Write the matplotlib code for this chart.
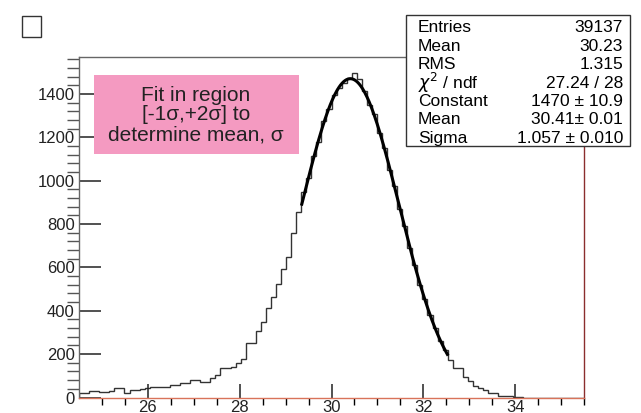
import numpy as np
import matplotlib
matplotlib.use("Agg")
import matplotlib.pyplot as plt
from matplotlib.patches import Rectangle

plt.rcParams["font.family"] = ["Liberation Sans", "DejaVu Sans"]

# histogram: 100 bins from 24.5 to 35.5
x_lo, x_hi, n_bins = 24.5, 35.5, 100
counts = [19, 19, 31, 31, 25, 25, 28, 44, 44, 22,
          35, 35, 40, 45, 47, 47, 48, 49, 58, 58,
          65, 65, 79, 79, 72, 72, 88, 104, 137, 137,
          140, 158, 176, 250, 250, 307, 350, 414, 462, 522,
          591, 649, 757, 857, 949, 1010, 1115, 1180, 1275, 1330,
          1395, 1425, 1450, 1472, 1498, 1470, 1415, 1350, 1305, 1220,
          1150, 1050, 975, 870, 790, 690, 610, 520, 455, 380,
          322, 262, 220, 175, 137, 137, 93, 76, 53, 42,
          35, 22, 22, 7, 6, 5, 4, 3, 0, 0,
          0, 0, 0, 0, 0, 0, 0, 0, 0, 0]

# gaussian fit result, fitted in [mean-1sigma, mean+2sigma]
fit_const, fit_mean, fit_sigma = 1470, 30.41, 1.057

stat_names = ["Entries", "Mean", "RMS", r"$\chi^2$ / ndf", "Constant", "Mean", "Sigma"]
stat_values = ["39137", "30.23", "1.315", "27.24 / 28",
               "1470 \u00b1 10.9", "30.41\u00b1 0.01", "1.057 \u00b1 0.010"]

W, H = 641, 413
fig = plt.figure(figsize=(W / 100, H / 100), dpi=100)
ax = fig.add_axes([79 / W, 1 - 397.5 / H, 505 / W, 340.5 / H])

edges = np.linspace(x_lo, x_hi, n_bins + 1)
ax.stairs(counts, edges, color="#333333", lw=1.0)

xf = np.linspace(fit_mean - fit_sigma, fit_mean + 2 * fit_sigma, 200)
ax.plot(xf, fit_const * np.exp(-0.5 * ((xf - fit_mean) / fit_sigma) ** 2),
        color="black", lw=2.2)

ax.set_xlim(x_lo, x_hi)
ax.set_ylim(0, 1570)
ax.set_xticks([26, 28, 30, 32, 34])
ax.set_xticks(np.arange(25, 35.6, 0.5), minor=True)
ax.set_yticks(range(0, 1401, 200))
ax.set_yticks(range(0, 1561, 40), minor=True)
ax.tick_params(axis="both", direction="in", labelsize=12, colors="#222222")
ax.tick_params(axis="y", which="major", length=16, width=1.1, pad=3)
ax.tick_params(axis="y", which="minor", length=9, width=1.0, color="#555555")
ax.tick_params(axis="x", which="major", length=10, width=1.1, pad=2)
ax.tick_params(axis="x", which="minor", length=5, width=1.0)

ax.spines["left"].set_color("#666666")
ax.spines["top"].set_color("#666666")
ax.spines["right"].set_color("#8b2e2e")
ax.spines["bottom"].set_color("#d9735a")
for s in ax.spines.values():
    s.set_linewidth(1.0)

# empty title box in the corner
fig.add_artist(Rectangle((22 / W, 1 - 37 / H), 19 / W, 21 / H,
                         transform=fig.transFigure, fill=False, lw=1, ec="#333333"))

# pink annotation box
fig.add_artist(Rectangle((94 / W, 1 - 154 / H), 205 / W, 79 / H,
                         transform=fig.transFigure, fc="#f49ac1", ec="none"))
fig.text(196 / W, 1 - 115 / H, "Fit in region\n[-1\u03c3,+2\u03c3] to\ndetermine mean, \u03c3",
         ha="center", va="center", fontsize=15, linespacing=1.05, color="#222222")

# stats box
fig.add_artist(Rectangle((406 / W, 1 - 146 / H), 224 / W, 131 / H,
                         transform=fig.transFigure, fc="white", ec="#333333", lw=1, zorder=5))
for i, (name, val) in enumerate(zip(stat_names, stat_values)):
    y = 1 - (28 + 18.4 * i) / H
    fig.text(418 / W, y, name, ha="left", va="center", fontsize=12.5, zorder=6)
    fig.text(623 / W, y, val, ha="right", va="center", fontsize=12.5, zorder=6)

fig.savefig("out.png", dpi=100)
